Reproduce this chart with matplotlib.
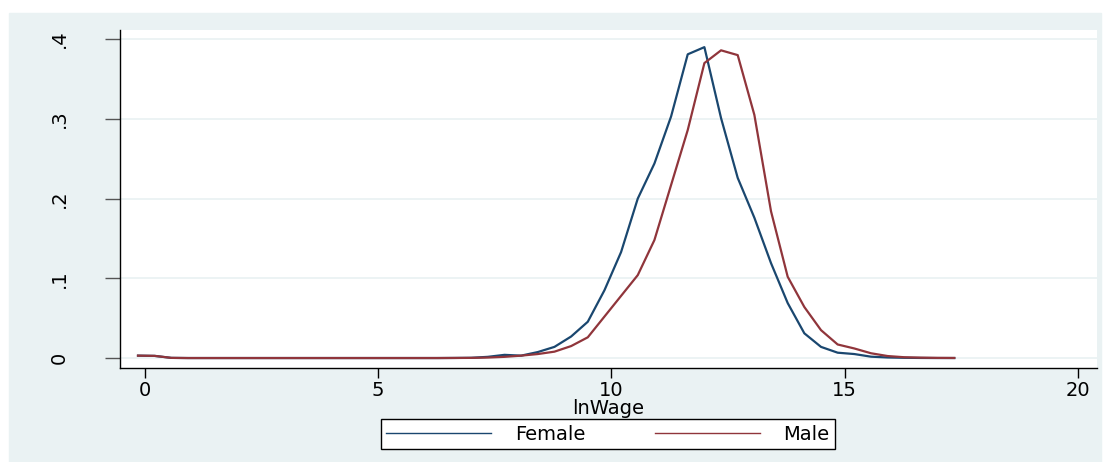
import matplotlib.pyplot as plt
from matplotlib.patches import Rectangle
from matplotlib.lines import Line2D
import numpy as np

# kernel density evaluation points (lnWage)
x_start, x_end, n_pts = -0.15, 17.35, 50
lnwage = np.linspace(x_start, x_end, n_pts)

female = [0.003, 0.0027, 0.0002, 0, 0, 0, 0, 0, 0, 0,
          0, 0, 0, 0, 0, 0, 0, 0, 0, 0.0001,
          0.0003, 0.0015, 0.004, 0.003, 0.0075, 0.014, 0.027, 0.0455, 0.085, 0.133,
          0.200, 0.244, 0.303, 0.381, 0.390, 0.301, 0.226, 0.176, 0.119, 0.069,
          0.031, 0.014, 0.0067, 0.005, 0.0017, 0.0007, 0.0003, 0.0001, 0, 0]
male = [0.003, 0.0027, 0.0002, 0, 0, 0, 0, 0, 0, 0,
        0, 0, 0, 0, 0, 0, 0, 0, 0, 0.0001,
        0.0002, 0.0006, 0.0015, 0.003, 0.005, 0.008, 0.015, 0.026, 0.052, 0.078,
        0.104, 0.148, 0.217, 0.286, 0.370, 0.386, 0.380, 0.305, 0.184, 0.102,
        0.064, 0.035, 0.017, 0.012, 0.006, 0.0025, 0.001, 0.0005, 0.0002, 0.0001]

xticks = [0, 5, 10, 15, 20]
yticks = [0, 0.1, 0.2, 0.3, 0.4]
ylabels = ["0", ".1", ".2", ".3", ".4"]

navy = "#1A476F"
maroon = "#90353B"
bg = "#EAF2F3"

plt.rcParams['font.family'] = ['DejaVu Sans']

fig = plt.figure(figsize=(11.11, 4.62), dpi=100, facecolor="white")
W, H = 1111, 462
# stata outer graph region
outer = Rectangle((9 / W, 0), (1101 - 9) / W, 1 - 13 / H,
                  transform=fig.transFigure, color=bg, zorder=-10)
fig.add_artist(outer)

ax = fig.add_axes([120 / W, 1 - 368 / H, (1097 - 120) / W, (368 - 30) / H])
ax.set_zorder(2)
ax.set_facecolor("white")

ax.plot(lnwage, female, color=navy, lw=1.6, zorder=3)
ax.plot(lnwage, male, color=maroon, lw=1.6, zorder=3)

ax.set_xlim(-0.536, 20.41)
ax.set_ylim(-0.0125, 0.4115)

ax.set_yticks(yticks)
ax.set_yticklabels(ylabels, rotation=90, va="center")
ax.set_xticks(xticks)
ax.grid(axis="y", color=bg, lw=1.3, zorder=1)
ax.grid(axis="x", visible=False)

ax.tick_params(axis="y", length=11, width=1, color="#555555", pad=26, labelsize=14)
ax.tick_params(axis="x", length=7, width=1, color="black", pad=2, labelsize=14)

for s in ["top", "right"]:
    ax.spines[s].set_visible(False)
ax.spines["left"].set_linewidth(1)
ax.spines["bottom"].set_linewidth(1)

ax.set_xlabel("lnWage", fontsize=14, labelpad=0)

handles = [Line2D([], [], color=navy, lw=1), Line2D([], [], color=maroon, lw=1)]
leg = fig.legend(handles, ["Female", "Male"], loc="center", ncol=2,
                 bbox_to_anchor=(608 / W, 1 - 434 / H), fontsize=14,
                 frameon=True, fancybox=False, edgecolor="black", framealpha=1,
                 facecolor="white",
                 handlelength=5.4, handletextpad=1.2, columnspacing=3.6,
                 borderpad=0.3, borderaxespad=0)
leg.get_frame().set_linewidth(1)
leg.set_zorder(5)

fig.savefig("out.png", dpi=100, facecolor="white")
